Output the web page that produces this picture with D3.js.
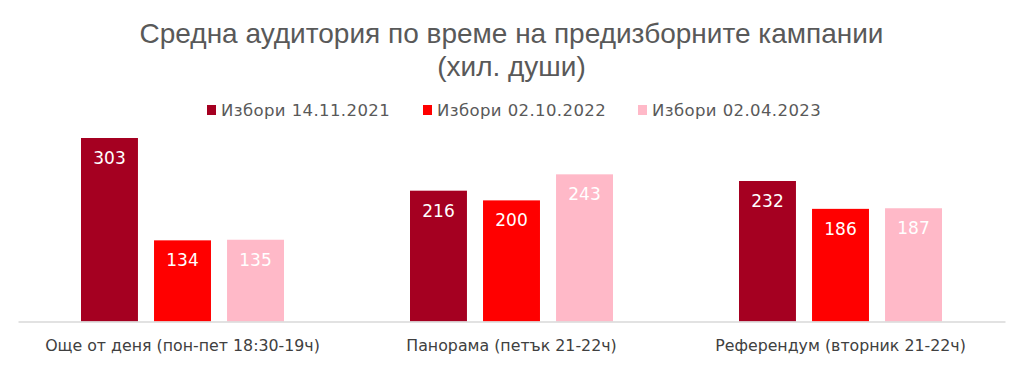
<!DOCTYPE html>
<html>
<head>
<meta charset="utf-8">
<script src="https://cdn.jsdelivr.net/npm/d3@7"></script>
<style>
  body { margin: 0; background: #fff; }
  text { font-family: "Liberation Sans", Arial, sans-serif; }
</style>
</head>
<body>
<div id="chart"></div>
<script>
// Data
var categories = ["Още от деня (пон-пет 18:30-19ч)", "Панорама (петък 21-22ч)", "Референдум (вторник 21-22ч)"];
var seriesNames = ["Избори 14.11.2021", "Избори 02.10.2022", "Избори 02.04.2023"];
var elections2021 = [303, 216, 232];
var elections2022 = [134, 200, 186];
var elections2023 = [135, 243, 187];
var titleLines = ["Средна аудитория по време на предизборните кампании", "(хил. души)"];

var colors = ["#A50021", "#FF0000", "#FFB9C8"];
var seriesValues = [elections2021, elections2022, elections2023];
var labelFont = '"DejaVu Sans", "Liberation Sans", sans-serif';

var width = 1023, height = 367;
var margin = { top: 130, right: 18, bottom: 45.5, left: 18 };

var svg = d3.select('#chart')
  .append('svg')
  .attr('width', width)
  .attr('height', height);

// title
svg.append('g').selectAll('text')
  .data(titleLines)
  .enter().append('text')
  .attr('x', width / 2)
  .attr('y', function(d, i) { return 43 + i * 33; })
  .attr('text-anchor', 'middle')
  .attr('font-size', '28px')
  .style('fill', '#595959')
  .text(function(d) { return d; });

// scales
var x0 = d3.scaleBand()
  .domain(categories)
  .range([margin.left, width - margin.right]);

var x1 = d3.scaleBand()
  .domain(d3.range(seriesNames.length))
  .range([63, x0.bandwidth() - 63])
  .paddingInner(0.22)
  .paddingOuter(0);

var y = d3.scaleLinear()
  .domain([0, 303])
  .range([height - margin.bottom, 138]);

// bars
var groups = svg.selectAll('.group')
  .data(categories)
  .enter().append('g')
  .attr('class', 'group')
  .attr('transform', function(d) { return 'translate(' + x0(d) + ',0)'; });

groups.each(function(cat, ci) {
  var g = d3.select(this);
  var vals = seriesValues.map(function(s, si) { return { s: si, v: s[ci] }; });

  g.selectAll('rect')
    .data(vals)
    .enter().append('rect')
    .attr('x', function(d) { return x1(d.s); })
    .attr('width', x1.bandwidth())
    .attr('y', function(d) { return y(d.v); })
    .attr('height', function(d) { return y(0) - y(d.v); })
    .style('fill', function(d) { return colors[d.s]; });

  g.selectAll('.val')
    .data(vals)
    .enter().append('text')
    .attr('class', 'val')
    .attr('x', function(d) { return x1(d.s) + x1.bandwidth() / 2; })
    .attr('y', function(d) { return y(d.v) + 26; })
    .attr('text-anchor', 'middle')
    .attr('font-size', '17px')
    .style('font-family', labelFont)
    .style('fill', '#fff')
    .text(function(d) { return d.v; });
});

// axis
var xAxis = d3.axisBottom(x0).tickSize(0).tickPadding(18);
var axisG = svg.append('g')
  .attr('transform', 'translate(0,' + y(0) + ')')
  .call(xAxis);
axisG.select('.domain').style('stroke', '#d9d9d9').style('stroke-width', 1.5);
axisG.selectAll('text')
  .attr('font-size', '15.8px')
  .style('font-family', labelFont)
  .style('fill', '#404040');

// legend
var legendX = [207, 423, 638];
var legend = svg.append('g').selectAll('g')
  .data(seriesNames)
  .enter().append('g')
  .attr('transform', function(d, i) { return 'translate(' + legendX[i] + ',105)'; });
legend.append('rect')
  .attr('width', 9)
  .attr('height', 10)
  .style('fill', function(d, i) { return colors[i]; });
legend.append('text')
  .attr('x', 14)
  .attr('y', 11)
  .attr('font-size', '16.5px')
  .attr('letter-spacing', '0.4px')
  .style('font-family', labelFont)
  .style('fill', '#595959')
  .text(function(d) { return d; });
</script>
</body>
</html>
